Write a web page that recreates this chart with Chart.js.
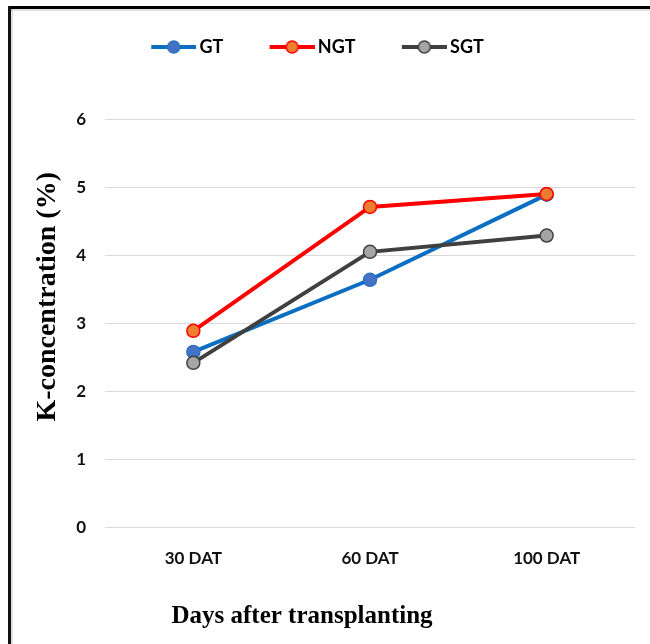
<!DOCTYPE html>
<html>
<head>
<meta charset="utf-8">
<title>K-concentration</title>
<script src="https://cdn.jsdelivr.net/npm/chart.js@4/dist/chart.umd.min.js"></script>
<style>
  html, body { margin: 0; padding: 0; background: #fff; width: 650px; height: 644px; overflow: hidden; }
  #wrap { position: relative; width: 650px; height: 644px; overflow: hidden; }
  .edge { position: absolute; background: #000; pointer-events: none; }
  #edgeTop { left: 8px; top: 6px; width: 642px; height: 3px; }
  #edgeLeft { left: 8px; top: 6px; width: 3px; height: 638px; background: #111; }
  #shadeTop { left: 11px; top: 9px; width: 639px; height: 2px; background: rgba(0,0,0,0.12); }
  #shadeLeft { left: 11px; top: 9px; width: 2px; height: 635px; background: rgba(0,0,0,0.12); }
  canvas { position: absolute; left: 0; top: 0; }
</style>
</head>
<body>
<div id="wrap">
  <canvas id="chart" width="650" height="644"></canvas>
  <div class="edge" id="edgeTop"></div>
  <div class="edge" id="edgeLeft"></div>
  <div class="edge" id="shadeTop"></div>
  <div class="edge" id="shadeLeft"></div>
</div>
<script>
// Potassium concentration by sampling date
const categories = ['30 DAT', '60 DAT', '100 DAT'];
const seriesNames = ['GT', 'NGT', 'SGT'];
const gtValues  = [2.58, 3.64, 4.89];
const ngtValues = [2.89, 4.71, 4.90];
const sgtValues = [2.42, 4.05, 4.29];
const yTickValues = [0, 1, 2, 3, 4, 5, 6];
const yTitle = 'K-concentration (%)';
const xTitle = 'Days after transplanting';

const styles = [
  { line: '#0A6FC2', fill: '#4472C4', edge: '#2F6FC0' },
  { line: '#FF0000', fill: '#ED7D31', edge: '#FF0000' },
  { line: '#404040', fill: '#A5A5A5', edge: '#404040' }
];
const seriesValues = [gtValues, ngtValues, sgtValues];

const sansFont = 'Lato, "Open Sans", "Liberation Sans", sans-serif';
const serifFont = '"Liberation Serif", "DejaVu Serif", serif';

// legend swatch: a short line with a marker in the middle
const BOX_W = 75.5;
function makeSwatch(st) {
  const c = document.createElement('canvas');
  c.width = 87; c.height = 16;
  const g = c.getContext('2d');
  const x0 = 42, x1 = 87, y = 8;
  g.strokeStyle = st.line; g.lineWidth = 4; g.lineCap = 'butt';
  g.beginPath(); g.moveTo(x0, y); g.lineTo(x1, y); g.stroke();
  g.beginPath(); g.arc((x0 + x1) / 2, y, 6, 0, Math.PI * 2);
  g.fillStyle = st.fill; g.fill();
  g.lineWidth = 1.5; g.strokeStyle = st.edge; g.stroke();
  return c;
}
const swatches = styles.map(makeSwatch);

const datasets = seriesNames.map((name, i) => ({
  label: name,
  data: seriesValues[i],
  borderColor: styles[i].line,
  backgroundColor: styles[i].fill,
  borderWidth: 4,
  pointRadius: 6.5,
  pointBorderWidth: 1.5,
  pointBackgroundColor: styles[i].fill,
  pointBorderColor: styles[i].edge,
  tension: 0,
  fill: false,
  order: 3 - i
}));

const xTitlePlugin = {
  id: 'xTitleText',
  afterDraw(chart) {
    const ctx = chart.ctx;
    ctx.save();
    ctx.font = 'bold 25px ' + serifFont;
    ctx.fillStyle = '#000';
    ctx.textAlign = 'center';
    ctx.textBaseline = 'alphabetic';
    ctx.fillText(xTitle, 302, 623);
    ctx.restore();
  }
};

new Chart(document.getElementById('chart'), {
  type: 'line',
  data: { labels: categories, datasets },
  plugins: [xTitlePlugin],
  options: {
    responsive: false,
    animation: false,
    devicePixelRatio: 1,
    layout: { padding: { left: 10, right: 15, top: 28, bottom: 54 } },
    plugins: {
      tooltip: { enabled: false },
      legend: {
        position: 'top',
        align: 'start',
        fullSize: false,
        labels: {
          usePointStyle: true,
          pointStyleWidth: BOX_W,
          padding: 10,
          color: '#000',
          font: { family: sansFont, size: 18, weight: 'bold' },
          generateLabels: () => seriesNames.map((name, i) => ({
            text: name,
            pointStyle: swatches[i],
            fillStyle: styles[i].fill,
            strokeStyle: styles[i].line,
            lineWidth: 0,
            hidden: false,
            datasetIndex: i
          }))
        }
      }
    },
    scales: {
      x: {
        type: 'category',
        offset: true,
        grid: { display: false, drawTicks: false },
        border: { display: false },
        ticks: {
          padding: 21,
          color: '#111',
          font: { family: sansFont, size: 17, weight: 'bold' }
        }
      },
      y: {
        min: 0,
        max: 6.78,
        afterFit: (scale) => { scale.width = 95; },
        afterBuildTicks: (scale) => {
          scale.ticks = scale.ticks.filter(t => yTickValues.includes(t.value));
        },
        grid: { color: '#d9d9d9', lineWidth: 1, drawTicks: false },
        border: { display: false },
        ticks: {
          stepSize: 1,
          padding: 19,
          color: '#111',
          font: { family: sansFont, size: 17, weight: 'bold' }
        },
        title: {
          display: true,
          text: yTitle,
          color: '#000',
          padding: { top: 21, bottom: 0 },
          font: { family: serifFont, size: 28, weight: 'bold' }
        }
      }
    }
  }
});
</script>
</body>
</html>
